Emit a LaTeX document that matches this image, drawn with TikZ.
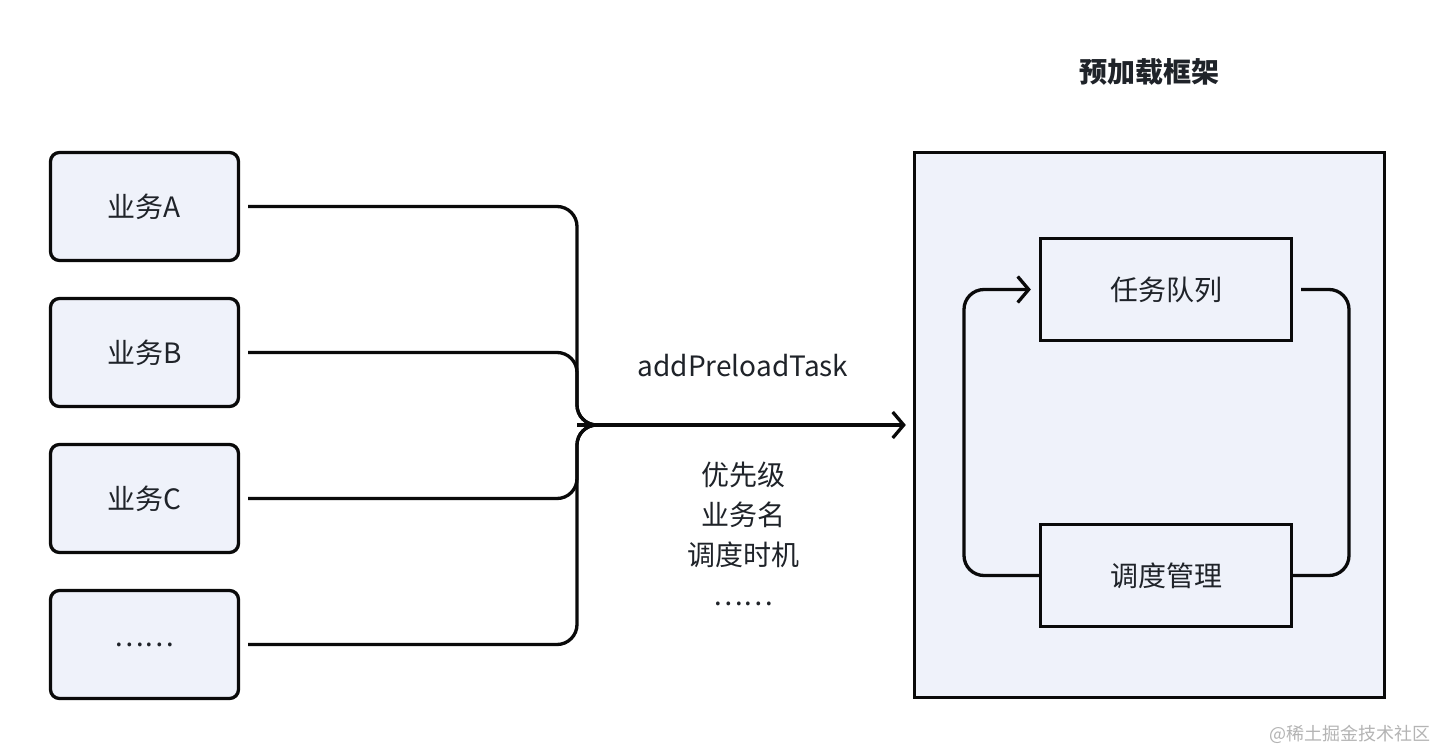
\documentclass[tikz,border=0pt]{standalone}
\usepackage{fontspec}
\setmainfont{Noto Sans CJK SC}
\usetikzlibrary{arrows.meta}
\definecolor{boxfill}{HTML}{EFF2FA}
\definecolor{txt}{HTML}{1F2329}
\definecolor{ln}{HTML}{0A0A0A}
\definecolor{wm}{HTML}{B4B4B4}
\begin{document}
\begin{tikzpicture}[x=1pt,y=-1pt,
  bizbox/.style={draw=ln, line width=3.3pt, fill=boxfill, rounded corners=9pt,
    minimum width=188pt, minimum height=108pt, text=txt, inner sep=0pt,
    font=\fontsize{28}{32}\selectfont},
  framebox/.style={draw=ln, line width=3.3pt, fill=boxfill, minimum width=470pt,
    minimum height=545pt, inner sep=0pt},
  innerbox/.style={draw=ln, line width=3.3pt, fill=boxfill, minimum width=251pt,
    minimum height=102pt, text=txt, inner sep=0pt, font=\fontsize{28}{32}\selectfont},
  conn/.style={draw=ln, line width=3.3pt, rounded corners=20pt},
  barb/.style={-{Straight Barb[length=11pt,width=26pt,line width=3.3pt]}},
  lbl/.style={text=txt, inner sep=0pt, font=\fontsize{28}{32}\selectfont},
]
\useasboundingbox (0,0) rectangle (1436,750);
\fill[white] (0,0) rectangle (1436,750);

% left business boxes
\node[bizbox] (a) at (144.5,206.5) {业务A};
\node[bizbox] (b) at (144.5,352.5) {业务B};
\node[bizbox] (c) at (144.5,498.5) {业务C};
\node[bizbox] (d) at (144.5,644.5) {……};

% framework
\node[framebox] (frame) at (1149.5,425) {};
\node[text=txt, inner sep=0pt, font=\fontsize{28}{32}\selectfont\bfseries] (title) at (1149.5,72) {预加载框架};
\node[innerbox] (q) at (1166,289.5) {任务队列};
\node[innerbox] (s) at (1166,575.5) {调度管理};

% junction
\coordinate (jx) at (577,425);
\coordinate (jout) at (640,425);
\foreach \n in {a,b,c,d}{
  \draw[conn] ([xshift=8pt]\n.east) -| (jx) -- (jout);
}
\draw[draw=ln, line width=3.3pt, barb] (jx) -- ([xshift=-7pt]frame.west);

% labels
\node[lbl] (api) at (743,366) {addPreloadTask};
\node[lbl, align=center, font=\fontsize{28}{40}\selectfont] (params) at (743,534)
  {优先级\\业务名\\调度时机\\……};

% loop
\coordinate (rx) at (1349,0);
\coordinate (lx) at (964,0);
\draw[conn] ([xshift=8pt]q.east) -- (rx |- q.east) -- (rx |- s.east) -- (s.east);
\draw[conn, barb] (s.west) -- (lx |- s.west) -- (lx |- q.west) -- ([xshift=-8pt]q.west);

% watermark
\node[text=wm, inner sep=0pt, font=\fontsize{18}{20}\selectfont, anchor=east] (wmk) at (1431,734) {@稀土掘金技术社区};
\end{tikzpicture}
\end{document}
